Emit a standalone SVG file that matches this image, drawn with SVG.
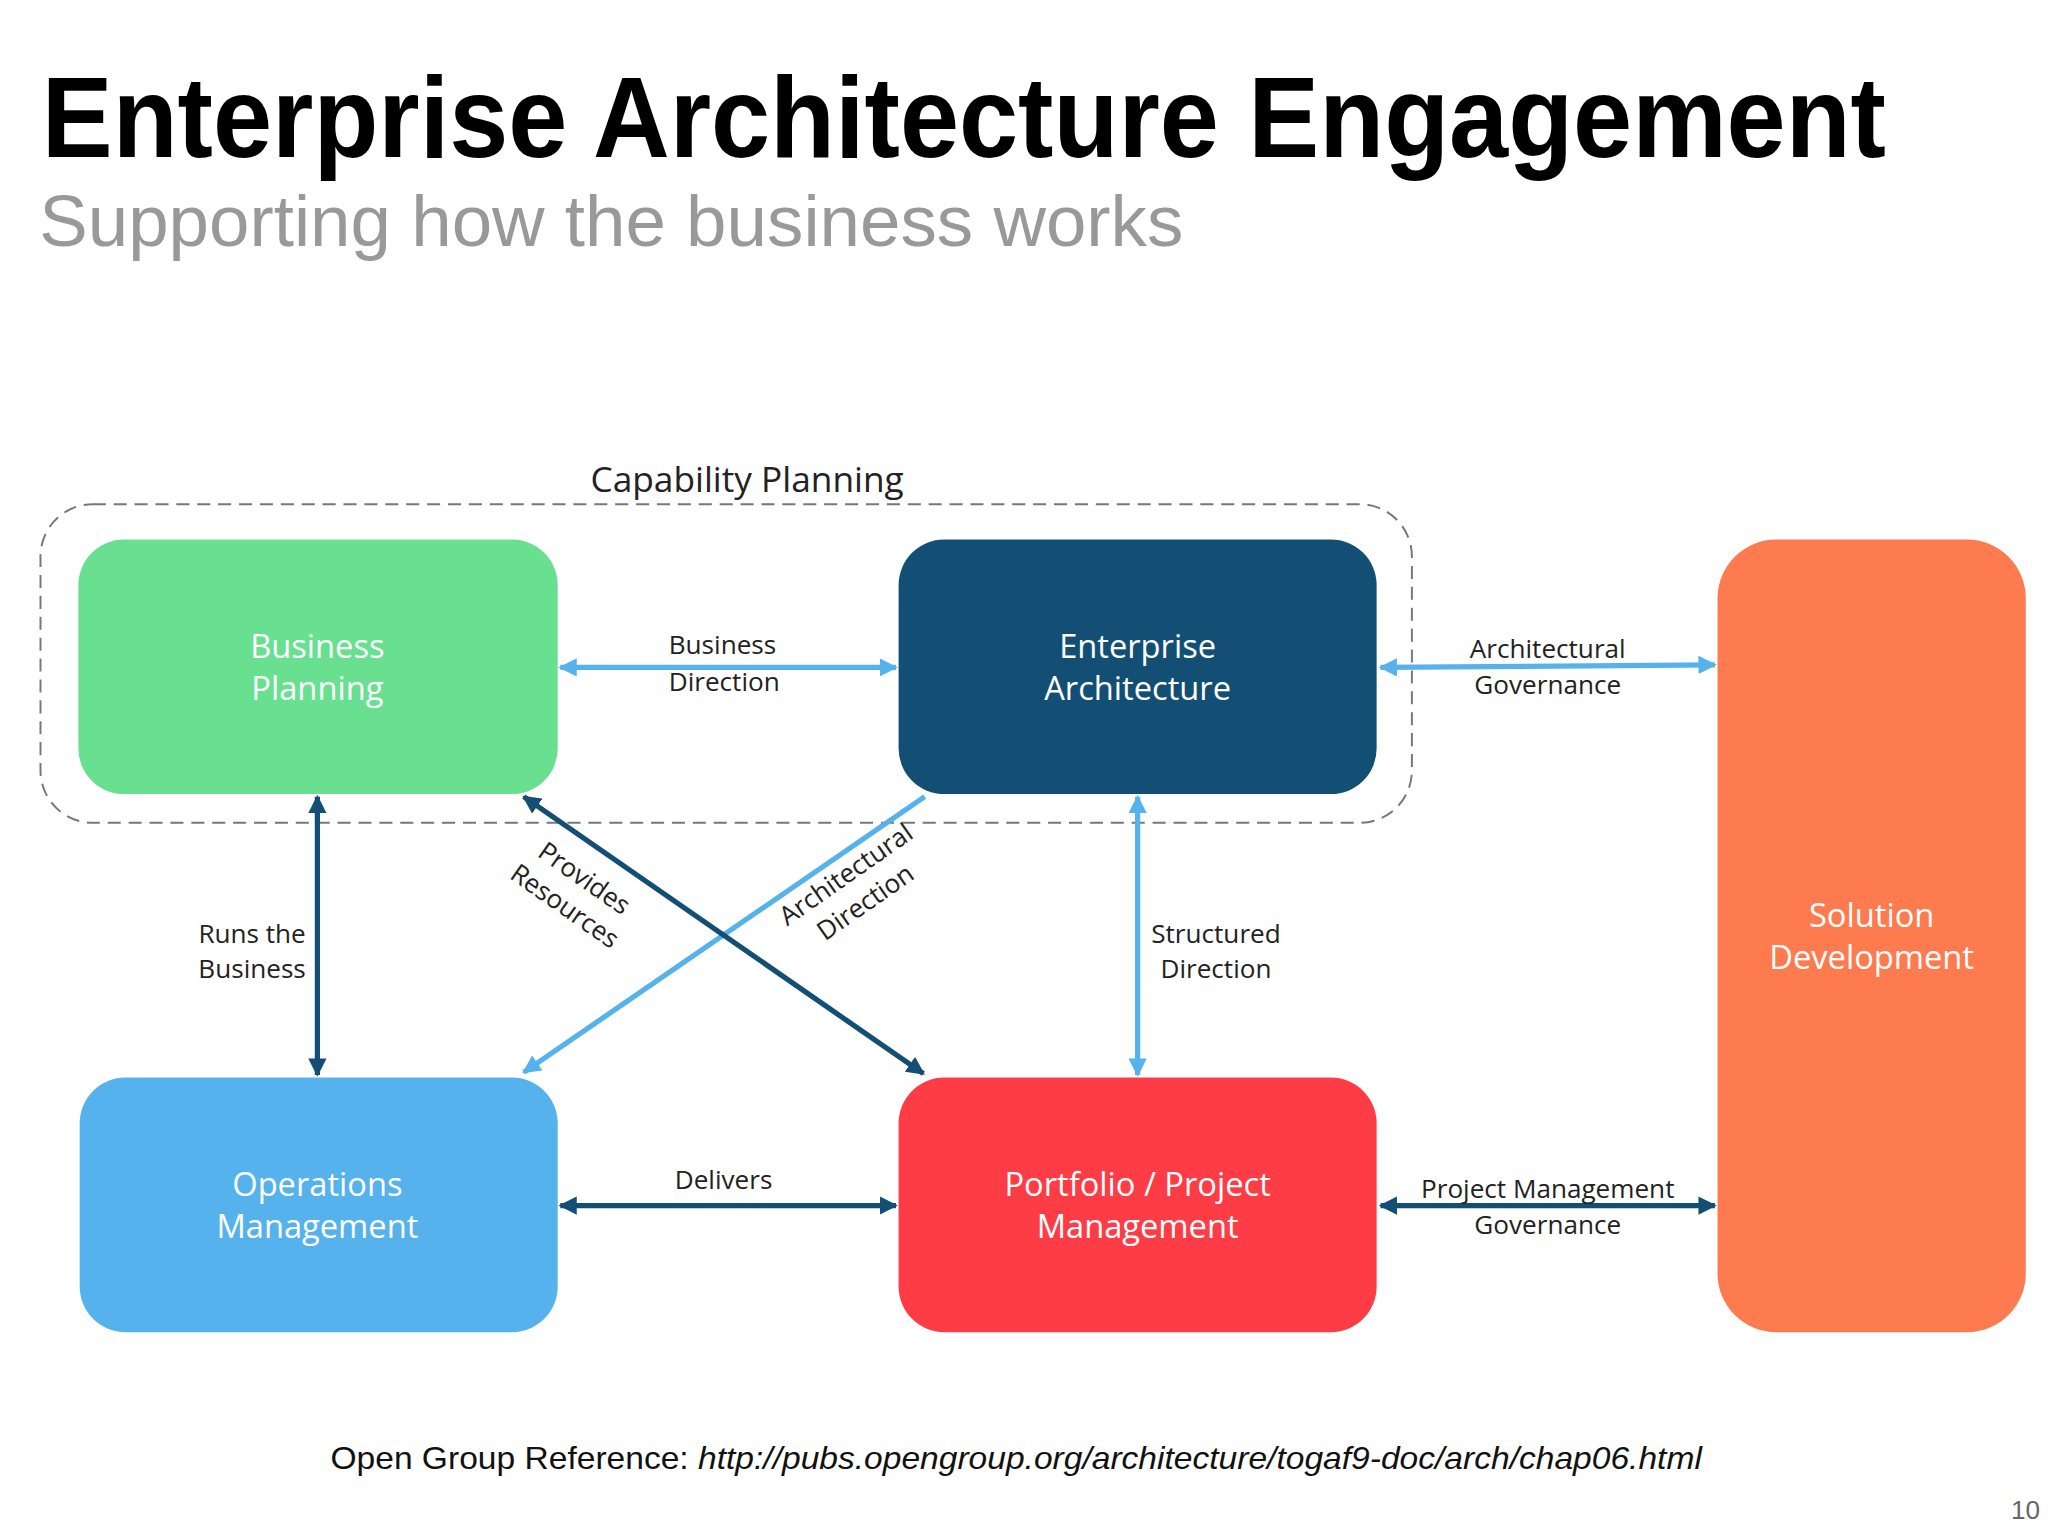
<svg xmlns="http://www.w3.org/2000/svg" width="2048" height="1536" viewBox="0 0 2048 1536">
<style>
.t{font-family:"Liberation Sans",Arial,sans-serif}
.bx{font-family:"Open Sans","Liberation Sans",sans-serif;font-size:25px;fill:#fff;text-anchor:middle}
.lb{font-family:"Open Sans","Liberation Sans",sans-serif;font-size:20px;fill:#222}
.lt{stroke:#56b2ec;stroke-width:4;fill:none}
.dk{stroke:#134f74;stroke-width:4;fill:none}
</style>
<defs>
<marker id="al" viewBox="0 0 10 10" refX="9" refY="5" markerWidth="14" markerHeight="14" markerUnits="userSpaceOnUse" orient="auto-start-reverse"><path d="M0,0 L10,5 L0,10 z" fill="#56b2ec"/></marker>
<marker id="ad" viewBox="0 0 10 10" refX="9" refY="5" markerWidth="14" markerHeight="14" markerUnits="userSpaceOnUse" orient="auto-start-reverse"><path d="M0,0 L10,5 L0,10 z" fill="#134f74"/></marker>
</defs>
<rect width="2048" height="1536" fill="#fff"/>
<g transform="scale(1.3061)">
<text class="t" x="32" y="120" font-size="88" font-weight="bold" textLength="1412" lengthAdjust="spacingAndGlyphs">Enterprise Architecture Engagement</text>
<text class="t" x="30" y="188" font-size="56" fill="#999" textLength="876" lengthAdjust="spacingAndGlyphs">Supporting how the business works</text>
<g id="capability">
<rect x="31" y="386" width="1050" height="244" rx="40" fill="none" stroke="#777" stroke-width="1.5" stroke-dasharray="10,6"/>
<text class="lb" x="572" y="377" style="font-size:27px" text-anchor="middle">Capability Planning</text>
</g>
<g id="bp"><rect x="60" y="413" width="367" height="195" rx="35" fill="#68e08f"/><text class="bx" x="243" y="504">Business</text><text class="bx" x="243" y="536">Planning</text></g>
<g id="ea"><rect x="688" y="413" width="366" height="195" rx="35" fill="#134f74"/><text class="bx" x="871" y="504">Enterprise</text><text class="bx" x="871" y="536">Architecture</text></g>
<g id="om"><rect x="61" y="825" width="366" height="195" rx="35" fill="#56b2ec"/><text class="bx" x="243" y="916">Operations</text><text class="bx" x="243" y="948">Management</text></g>
<g id="pm"><rect x="688" y="825" width="366" height="195" rx="35" fill="#fd3c46"/><text class="bx" x="871" y="916">Portfolio / Project</text><text class="bx" x="871" y="948">Management</text></g>
<g id="sd"><rect x="1315" y="413" width="236" height="607" rx="45" fill="#fe7b4f"/><text class="bx" x="1433" y="710">Solution</text><text class="bx" x="1433" y="742">Development</text></g>
<g id="connectors">
<line class="lt" x1="429" y1="511" x2="686" y2="511" marker-start="url(#al)" marker-end="url(#al)"/>
<line class="lt" x1="1057" y1="511" x2="1313" y2="509" marker-start="url(#al)" marker-end="url(#al)"/>
<line class="dk" x1="243" y1="610" x2="243" y2="823" marker-start="url(#ad)" marker-end="url(#ad)"/>
<line class="lt" x1="871" y1="610" x2="871" y2="823" marker-start="url(#al)" marker-end="url(#al)"/>
<line class="dk" x1="429" y1="923" x2="686" y2="923" marker-start="url(#ad)" marker-end="url(#ad)"/>
<line class="dk" x1="1057" y1="923" x2="1313" y2="923" marker-start="url(#ad)" marker-end="url(#ad)"/>
<line class="lt" x1="708" y1="610" x2="401" y2="821" marker-end="url(#al)"/>
<line class="dk" x1="401" y1="610" x2="707" y2="822" marker-start="url(#ad)" marker-end="url(#ad)"/>
<text class="lb" x="512" y="501">Business</text><text class="lb" x="512" y="529">Direction</text>
<text class="lb" x="1185" y="504" text-anchor="middle">Architectural</text><text class="lb" x="1185" y="531" text-anchor="middle">Governance</text>
<text class="lb" x="193" y="722" text-anchor="middle">Runs the</text><text class="lb" x="193" y="749" text-anchor="middle">Business</text>
<text class="lb" x="931" y="722" text-anchor="middle">Structured</text><text class="lb" x="931" y="749" text-anchor="middle">Direction</text>
<text class="lb" x="554" y="910" text-anchor="middle">Delivers</text>
<text class="lb" x="1185" y="917" text-anchor="middle">Project Management</text><text class="lb" x="1185" y="945" text-anchor="middle">Governance</text>
<g transform="translate(440,683) rotate(35)"><text class="lb" x="0" y="-6" text-anchor="middle">Provides</text><text class="lb" x="0" y="20" text-anchor="middle">Resources</text></g>
<g transform="translate(655,680) rotate(-35)"><text class="lb" x="0" y="-6" text-anchor="middle">Architectural</text><text class="lb" x="0" y="20" text-anchor="middle">Direction</text></g>
</g>
<text class="t" x="253" y="1125" font-size="24" fill="#111" textLength="1050" lengthAdjust="spacingAndGlyphs">Open Group Reference: <tspan font-style="italic">http://pubs.opengroup.org/architecture/togaf9-doc/arch/chap06.html</tspan></text>
<text class="t" x="1562" y="1163" font-size="20" text-anchor="end" fill="#666">10</text>
</g>
</svg>
